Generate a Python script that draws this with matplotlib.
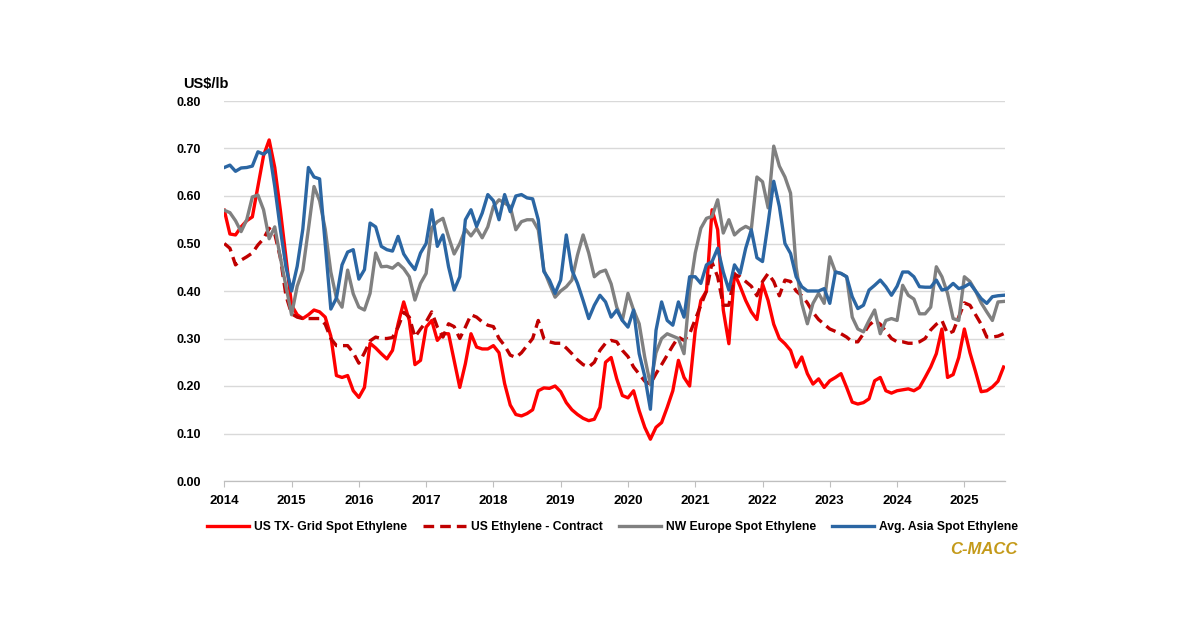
import numpy as np
import matplotlib
matplotlib.use("Agg")
import matplotlib.pyplot as plt
from matplotlib import font_manager

# monthly values, Jan 2014 .. Aug 2025 (US$/lb)
years = ["2014", "2015", "2016", "2017", "2018", "2019", "2020",
         "2021", "2022", "2023", "2024", "2025"]

us_tx_spot = [
    0.57, 0.52, 0.518, 0.535, 0.548, 0.556, 0.62, 0.685, 0.718, 0.66, 0.57, 0.47,      # 2014
    0.37, 0.35, 0.342, 0.35, 0.36, 0.356, 0.345, 0.305, 0.222, 0.218, 0.222, 0.19,     # 2015
    0.176, 0.197, 0.29, 0.28, 0.268, 0.257, 0.275, 0.331, 0.377, 0.338, 0.245, 0.254,  # 2016
    0.324, 0.338, 0.296, 0.31, 0.31, 0.254, 0.197, 0.247, 0.31, 0.282, 0.278, 0.278,   # 2017
    0.285, 0.27, 0.205, 0.16, 0.14, 0.137, 0.142, 0.15, 0.19, 0.196, 0.195, 0.2,       # 2018
    0.188, 0.165, 0.15, 0.14, 0.132, 0.127, 0.13, 0.155, 0.25, 0.26, 0.215, 0.18,      # 2019
    0.175, 0.19, 0.148, 0.113, 0.088, 0.113, 0.123, 0.155, 0.19, 0.254, 0.218, 0.2,    # 2020
    0.317, 0.38, 0.40, 0.571, 0.529, 0.36, 0.289, 0.437, 0.41, 0.38, 0.356, 0.34,      # 2021
    0.415, 0.38, 0.33, 0.30, 0.289, 0.275, 0.24, 0.261, 0.226, 0.204, 0.215, 0.197,   # 2022
    0.211, 0.218, 0.226, 0.197, 0.166, 0.162, 0.165, 0.173, 0.211, 0.218, 0.19, 0.185, # 2023
    0.19, 0.192, 0.194, 0.19, 0.197, 0.218, 0.24, 0.268, 0.32, 0.218, 0.224, 0.26,     # 2024
    0.32, 0.27, 0.23, 0.188, 0.19, 0.198, 0.21, 0.24,                                  # 2025
]

us_contract = [
    0.50, 0.49, 0.455, 0.465, 0.472, 0.48, 0.497, 0.51, 0.532, 0.52, 0.47, 0.39,
    0.352, 0.345, 0.342, 0.342, 0.342, 0.342, 0.33, 0.30, 0.285, 0.285, 0.285, 0.27,
    0.248, 0.27, 0.295, 0.303, 0.30, 0.30, 0.302, 0.324, 0.355, 0.345, 0.303, 0.32,
    0.335, 0.356, 0.324, 0.303, 0.331, 0.325, 0.30, 0.324, 0.35, 0.345, 0.335, 0.328,
    0.325, 0.30, 0.285, 0.265, 0.26, 0.27, 0.285, 0.30, 0.338, 0.30, 0.293, 0.29,
    0.29, 0.28, 0.268, 0.255, 0.245, 0.24, 0.25, 0.275, 0.29, 0.296, 0.293, 0.275,
    0.262, 0.24, 0.225, 0.21, 0.204, 0.226, 0.245, 0.265, 0.285, 0.303, 0.296, 0.31,
    0.34, 0.37, 0.40, 0.46, 0.43, 0.37, 0.37, 0.435, 0.43, 0.42, 0.41, 0.39,
    0.42, 0.437, 0.42, 0.39, 0.423, 0.42, 0.40, 0.39, 0.375, 0.355, 0.34, 0.33,
    0.32, 0.315, 0.31, 0.303, 0.293, 0.293, 0.31, 0.328, 0.338, 0.33, 0.315, 0.30,
    0.293, 0.293, 0.29, 0.29, 0.293, 0.30, 0.318, 0.33, 0.338, 0.31, 0.315, 0.345,
    0.375, 0.37, 0.35, 0.33, 0.303, 0.303, 0.305, 0.31,
]

nw_europe = [
    0.57, 0.565, 0.548, 0.525, 0.55, 0.598, 0.602, 0.571, 0.51, 0.535, 0.47, 0.41,
    0.35, 0.41, 0.444, 0.53, 0.62, 0.59, 0.53, 0.44, 0.385, 0.366, 0.444, 0.394,
    0.366, 0.36, 0.395, 0.48, 0.451, 0.452, 0.448, 0.458, 0.447, 0.43, 0.381, 0.416,
    0.437, 0.533, 0.546, 0.553, 0.514, 0.478, 0.50, 0.53, 0.516, 0.532, 0.512, 0.535,
    0.578, 0.592, 0.585, 0.578, 0.529, 0.546, 0.55, 0.55, 0.529, 0.444, 0.415, 0.387,
    0.40, 0.409, 0.423, 0.476, 0.518, 0.48, 0.43, 0.44, 0.444, 0.415, 0.366, 0.338,
    0.395, 0.36, 0.331, 0.26, 0.203, 0.27, 0.30, 0.31, 0.305, 0.30, 0.268, 0.40,
    0.48, 0.532, 0.553, 0.557, 0.592, 0.522, 0.55, 0.518, 0.529, 0.536, 0.53, 0.64,
    0.63, 0.575, 0.705, 0.663, 0.64, 0.606, 0.45, 0.374, 0.331, 0.374, 0.395, 0.374,
    0.472, 0.44, 0.437, 0.43, 0.345, 0.32, 0.314, 0.338, 0.36, 0.31, 0.338, 0.342,
    0.338, 0.412, 0.391, 0.383, 0.352, 0.352, 0.366, 0.451, 0.43, 0.395, 0.342, 0.338,
    0.43, 0.42, 0.40, 0.375, 0.356, 0.338, 0.377, 0.378,
]

asia_avg = [
    0.66, 0.665, 0.652, 0.659, 0.66, 0.663, 0.693, 0.688, 0.697, 0.62, 0.53, 0.45,
    0.40, 0.452, 0.53, 0.66, 0.64, 0.636, 0.50, 0.362, 0.385, 0.455, 0.482, 0.487,
    0.425, 0.445, 0.543, 0.535, 0.494, 0.487, 0.484, 0.515, 0.478, 0.46, 0.445, 0.48,
    0.50, 0.571, 0.494, 0.518, 0.451, 0.402, 0.43, 0.55, 0.571, 0.536, 0.564, 0.603,
    0.59, 0.55, 0.603, 0.567, 0.60, 0.603, 0.596, 0.594, 0.55, 0.441, 0.423, 0.395,
    0.423, 0.518, 0.444, 0.416, 0.38, 0.342, 0.37, 0.391, 0.377, 0.345, 0.36, 0.338,
    0.324, 0.36, 0.268, 0.22, 0.151, 0.317, 0.377, 0.338, 0.328, 0.377, 0.345, 0.43,
    0.43, 0.416, 0.455, 0.462, 0.49, 0.44, 0.402, 0.455, 0.437, 0.49, 0.529, 0.47,
    0.462, 0.543, 0.631, 0.578, 0.50, 0.479, 0.43, 0.409, 0.40, 0.40, 0.40, 0.405,
    0.374, 0.44, 0.437, 0.43, 0.388, 0.363, 0.37, 0.402, 0.412, 0.423, 0.409, 0.391,
    0.41, 0.44, 0.44, 0.43, 0.409, 0.408, 0.408, 0.423, 0.402, 0.405, 0.416, 0.405,
    0.409, 0.416, 0.40, 0.384, 0.374, 0.388, 0.39, 0.391,
]

# pick fonts that exist
names = {f.name for f in font_manager.fontManager.ttflist}
narrow = "Liberation Sans Narrow" if "Liberation Sans Narrow" in names else "Liberation Sans"
regular = "Liberation Sans" if "Liberation Sans" in names else "DejaVu Sans"
legend_size = 10 if narrow == "Liberation Sans Narrow" else 8.7

months = np.arange(len(us_tx_spot))

fig = plt.figure(figsize=(12, 6.27), dpi=100)
ax = fig.add_axes([224.3 / 1200, 1 - 481 / 627, (1005 - 224.3) / 1200, 380 / 627])

lw = 2.4
ax.plot(months, us_tx_spot, color="#FF0000", lw=lw, label="US TX- Grid Spot Ethylene", zorder=3,
        solid_joinstyle="round")
ax.plot(months, us_contract, color="#C00000", lw=lw, ls=(0, (3.2, 1.8)),
        label="US Ethylene - Contract", zorder=4)
ax.plot(months, nw_europe, color="#808080", lw=lw, label="NW Europe Spot Ethylene", zorder=5,
        solid_joinstyle="round")
ax.plot(months, asia_avg, color="#2B66A3", lw=lw, label="Avg. Asia Spot Ethylene", zorder=6,
        solid_joinstyle="round")

ax.set_xlim(0, 139.25)
ax.set_ylim(0, 0.8)

ax.set_yticks(np.arange(0, 0.81, 0.1))
ax.set_yticklabels([f"{v:.2f}" for v in np.arange(0, 0.81, 0.1)])
ax.yaxis.grid(True, color="#D9D9D9", lw=1.0, zorder=0)
ax.set_axisbelow(True)
ax.tick_params(axis="y", length=0, pad=17)
for lab in ax.get_yticklabels():
    lab.set_fontfamily(regular)
    lab.set_fontweight("bold")
    lab.set_fontsize(9)

ax.set_xticks(np.arange(0, 140, 12))
ax.set_xticklabels(years)
ax.tick_params(axis="x", length=4, width=0.8, color="#BFBFBF", pad=6)
for lab in ax.get_xticklabels():
    lab.set_fontfamily(narrow)
    lab.set_fontweight("bold")
    lab.set_fontsize(9.5)

for side in ["left", "right", "top"]:
    ax.spines[side].set_visible(False)
ax.spines["bottom"].set_color("#BFBFBF")
ax.spines["bottom"].set_linewidth(0.9)

fig.text(182.7 / 1200, 1 - 88 / 627, "US$/lb", fontfamily=regular, fontweight="bold",
         fontsize=10.5, ha="left", va="baseline")

handles, labels = ax.get_legend_handles_labels()
fig.legend(handles, labels, loc="center left", bbox_to_anchor=(207 / 1200, 1 - 527 / 627),
           ncol=4, frameon=False, handlelength=3.5, handletextpad=0.4, columnspacing=1.35,
           borderpad=0, borderaxespad=0,
           prop={"family": narrow, "weight": "bold", "size": legend_size})

fig.text(1018 / 1200, 1 - 549 / 627, "C-MACC", fontfamily=regular, fontweight="bold",
         fontstyle="italic", fontsize=12, color="#C49A1A", ha="right", va="center")

fig.savefig("out.png", dpi=100)
